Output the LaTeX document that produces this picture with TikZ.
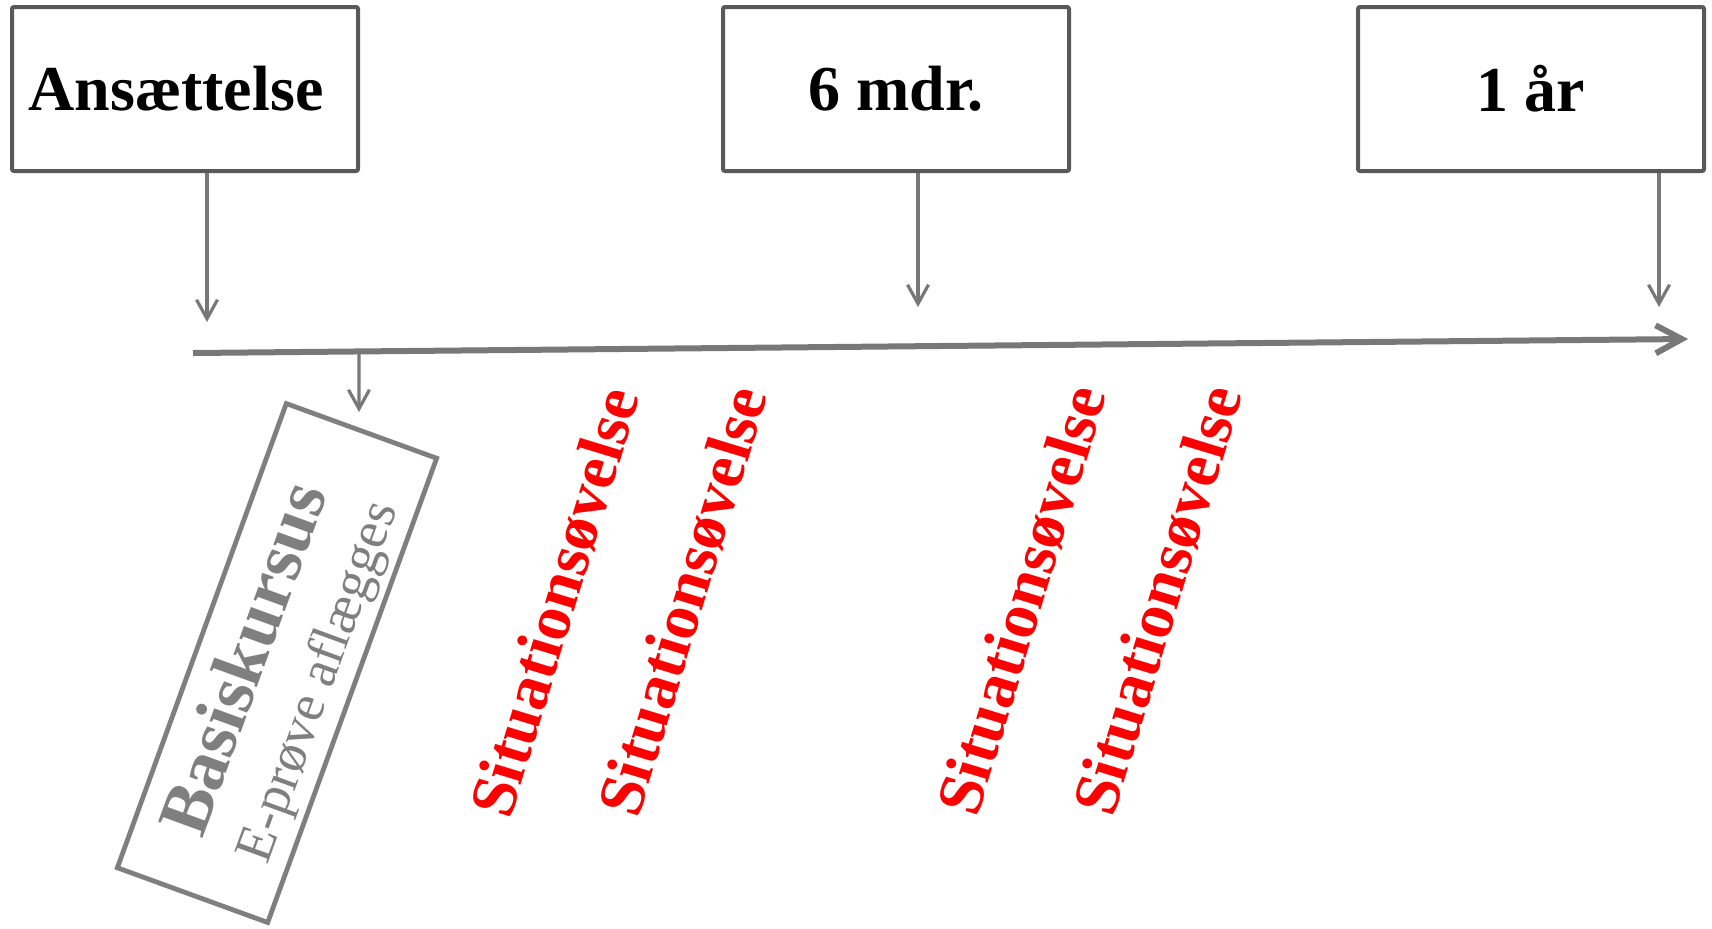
\documentclass[tikz,border=0pt]{standalone}
\usepackage{fontspec}
\setmainfont{Liberation Serif}
\usetikzlibrary{arrows.meta,calc}
\definecolor{boxline}{HTML}{595959}
\definecolor{axisgray}{HTML}{787878}
\definecolor{softgray}{HTML}{7F7F7F}
\begin{document}
\begin{tikzpicture}[x=0.5pt,y=0.5pt,
  milestone/.style={draw=boxline,line width=2pt,rounded corners=1pt,
    minimum width=173pt,minimum height=82pt,inner sep=0pt,
    font=\fontsize{32}{38}\selectfont\bfseries},
  pointer/.style={draw=axisgray,line width=1.6pt,
    -{Straight Barb[length=9.5pt,width=10.5pt]}},
  exercise/.style={rotate=73,inner sep=0pt,text=red,
    font=\fontsize{32.5}{38}\selectfont\bfseries},
  coursebox/.style={draw=softgray,line width=2.4pt,rotate=70,
    minimum width=247pt,minimum height=80pt,inner sep=0pt}]
\useasboundingbox (0,0) rectangle (1712,-928);

% milestones
\node[milestone] (hire) at (185,-89) {Ansættelse\kern9pt};
\node[milestone] (half) at (896,-89) {6 mdr.};
\node[milestone] (year) at (1531,-89) {1 år};

% time axis
\coordinate (t0) at (193,-353);
\coordinate (t1) at (1688,-339);
\draw[axisgray,line width=3pt,
  -{Straight Barb[length=13pt,width=14pt]}] (t0) -- (t1);

% pointers from the milestones onto the axis
\coordinate (hireEnd) at (207,-322);
\coordinate (halfEnd) at (918,-307);
\coordinate (yearEnd) at (1659,-307);
\draw[pointer] ([xshift=11pt]hire.south) -- (hireEnd);
\draw[pointer] ([xshift=11pt]half.south) -- (halfEnd);
\draw[pointer] ([xshift=64pt]year.south) -- (yearEnd);

% basic course, tilted
\node[coursebox] (course) at (277,-663) {};
\node[rotate=70,inner sep=0pt,text=softgray,
  font=\fontsize{36}{42}\selectfont\bfseries] (courseTitle) at (242,-658) {Basiskursus};
\node[rotate=70,inner sep=0pt,text=softgray,
  font=\fontsize{27}{32}\selectfont] (courseSub) at (320,-683) {E-prøve aflægges};
\coordinate (courseStart) at ($(t0)!0.111!(t1)$);
\coordinate (courseEnd) at (359,-412);
\draw[pointer] (courseStart) -- (courseEnd);

% situation exercises
\node[exercise] (ex1) at (555,-602) {Situationsøvelse};
\node[exercise] (ex2) at (683,-601) {Situationsøvelse};
\node[exercise] (ex3) at (1022,-600) {Situationsøvelse};
\node[exercise] (ex4) at (1158,-600) {Situationsøvelse};
\end{tikzpicture}
\end{document}
